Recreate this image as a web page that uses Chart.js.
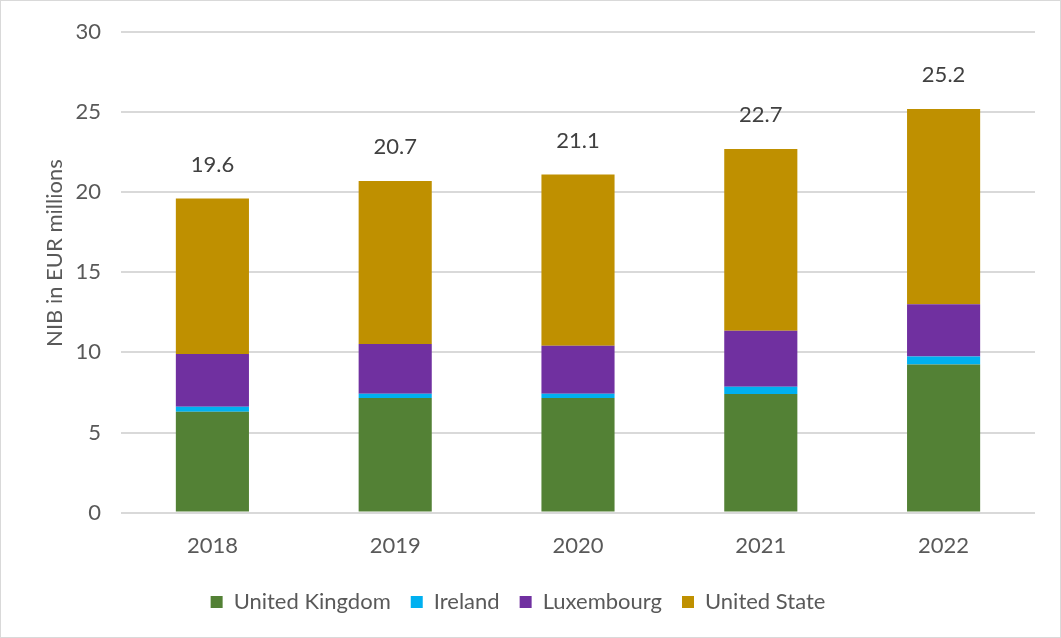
<!DOCTYPE html>
<html>
<head>
<meta charset="utf-8">
<script src="https://cdn.jsdelivr.net/npm/chart.js@4/dist/chart.umd.min.js"></script>
<style>
  html, body { margin: 0; padding: 0; background: #fff; }
  #wrap { position: relative; width: 1059px; height: 636px; border: 1px solid #d9d9d9; }
</style>
</head>
<body>
<div id="wrap"><canvas id="nibChart"></canvas></div>
<script>
// NIB by country, EUR millions
const years = ['2018', '2019', '2020', '2021', '2022'];
const unitedKingdom = [6.3, 7.15, 7.15, 7.4, 9.25];
const ireland = [0.3, 0.27, 0.27, 0.45, 0.5];
const luxembourg = [3.3, 3.1, 3.0, 3.5, 3.25];
const unitedStates = [9.7, 10.18, 10.68, 11.35, 12.2];
const totals = [19.6, 20.7, 21.1, 22.7, 25.2];
const yTitle = 'NIB in EUR millions';

const fontFamily = 'Lato, "Open Sans", sans-serif';
const textColor = '#595959';

// Writes the total above each stacked column, plus the rotated y title
const extraText = {
    id: 'extraText',
    afterDatasetsDraw(chart) {
        const ctx = chart.ctx;
        const yScale = chart.scales.y;
        const meta = chart.getDatasetMeta(0);
        ctx.save();
        ctx.font = '22px ' + fontFamily;
        ctx.fillStyle = '#404040';
        ctx.textAlign = 'center';
        ctx.textBaseline = 'bottom';
        totals.forEach((t, i) => {
            const x = meta.data[i].x;
            const y = yScale.getPixelForValue(t);
            ctx.fillText(t.toFixed(1), x, y - 23);
        });

        ctx.fillStyle = textColor;
        ctx.textBaseline = 'middle';
        ctx.translate(54, yScale.getPixelForValue(16.2));
        ctx.rotate(-Math.PI / 2);
        ctx.fillText(yTitle, 0, 0);
        ctx.restore();
    }
};

function makeSet(label, data, color) {
    return {
        label: label,
        data: data,
        backgroundColor: color,
        borderWidth: 0,
        categoryPercentage: 1.0,
        barPercentage: 0.4
    };
}

const ctx = document.getElementById('nibChart').getContext('2d');
new Chart(ctx, {
    type: 'bar',
    data: {
        labels: years,
        datasets: [
            makeSet('United Kingdom', unitedKingdom, '#538135'),
            makeSet('Ireland', ireland, '#00B0F0'),
            makeSet('Luxembourg', luxembourg, '#7030A0'),
            makeSet('United State', unitedStates, '#BF9000')
        ]
    },
    options: {
        responsive: true,
        maintainAspectRatio: false,
        animation: false,
        layout: { padding: { top: 10, right: 25, bottom: 14, left: 0 } },
        plugins: {
            legend: {
                position: 'bottom',
                labels: {
                    color: textColor,
                    font: { family: fontFamily, size: 22 },
                    boxWidth: 12,
                    boxHeight: 12,
                    padding: 20
                }
            },
            tooltip: { enabled: false }
        },
        scales: {
            x: {
                stacked: true,
                grid: { display: false },
                border: { display: false },
                ticks: { color: textColor, font: { family: fontFamily, size: 22 }, padding: 12 }
            },
            y: {
                stacked: true,
                min: 0,
                max: 30,
                afterFit(scale) { scale.width = 120; },
                grid: { color: '#d9d9d9', lineWidth: 2, drawTicks: false },
                border: { display: false },
                ticks: { stepSize: 5, color: textColor, font: { family: fontFamily, size: 22, lineHeight: 1 }, padding: 20 }
            }
        }
    },
    plugins: [extraText]
});
</script>
</body>
</html>
